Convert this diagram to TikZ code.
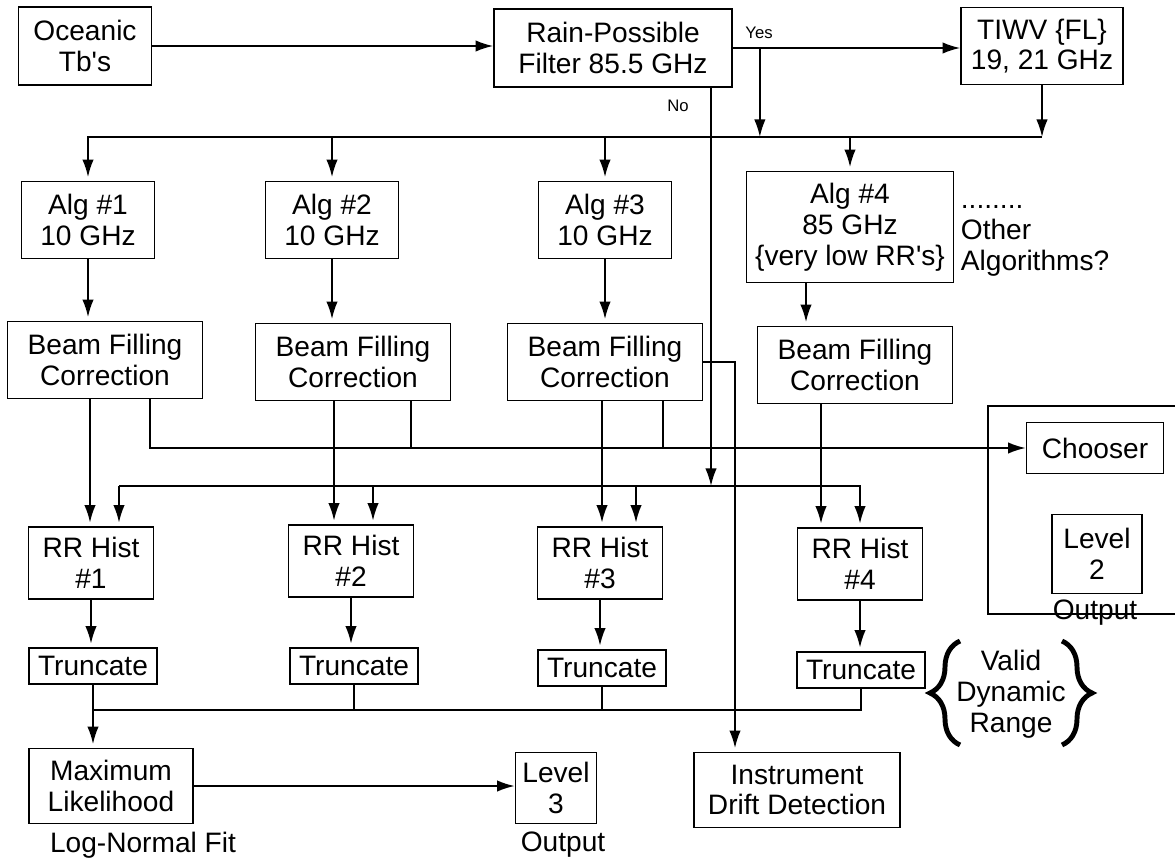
\documentclass[tikz,border=0pt]{standalone}
\usepackage{fontspec}
\setmainfont{Liberation Sans}
\usetikzlibrary{arrows.meta, calc, decorations.pathreplacing}

\begin{document}
\begin{tikzpicture}[
    x=0.02cm, y=-0.02cm, line width=1pt,
    % Define styles for the nodes
    box_node/.style={rectangle, draw=black, line width=1pt, inner sep=0pt, align=center, font=\fontsize{16}{17.5}\selectfont},
    top_node/.style={box_node, minimum height=1.56cm},
    alg_node/.style={box_node, minimum width=2.66cm, minimum height=1.54cm},
    beam_node/.style={box_node, minimum width=3.9cm, minimum height=1.54cm},
    hist_node/.style={box_node, minimum width=2.5cm, minimum height=1.44cm},
    trunc_node/.style={box_node, minimum width=2.56cm, minimum height=0.72cm},
    text_node/.style={align=center, inner sep=0pt, font=\fontsize{16}{17.5}\selectfont},
    small_node/.style={inner sep=0pt, font=\fontsize{9.5}{11}\selectfont},
    % Styles for arrows
    arrow/.style={-{Latex[length=10pt, width=6.5pt]}},
    bracket/.style={decorate, decoration={brace, amplitude=0.6cm}, line width=2.8pt}
]
    \useasboundingbox (0,0) rectangle (1175,861);

    % =========================================================================
    % INPUT & RAIN FILTER
    % =========================================================================
    \node (ocean) [top_node, minimum width=2.66cm] at (85,46) {Oceanic\\Tb\textquotesingle s};
    \node (rain) [top_node, minimum width=4.76cm] at (613,48) {Rain-Possible\\Filter 85.5 GHz};
    \node (tiwv) [top_node, minimum width=3.24cm, minimum height=1.54cm] at (1042,46) {TIWV \{FL\}\\19, 21 GHz};

    \draw [arrow] (ocean.east) -- (ocean.east -| rain.west);
    \draw [arrow] (rain.east) -- (rain.east -| tiwv.west);
    \node (yes) [small_node] at (759,33) {Yes};
    \node (no) [small_node] at (678,106) {No};

    % distribution bus to the algorithms
    \coordinate (bus) at (0,137);
    \coordinate (yesx) at ($(rain.east)+(27,0)$);
    \coordinate (nox) at ($(rain.south)+(98,0)$);
    \draw [arrow] (yesx) -- (yesx |- bus);
    \draw [arrow] (tiwv.south) -- (tiwv.south |- bus);

    % =========================================================================
    % ALGORITHMS
    % =========================================================================
    \node (alg1) [alg_node] at (88,220) {Alg \#1\\10 GHz};
    \node (alg2) [alg_node] at (332,220) {Alg \#2\\10 GHz};
    \node (alg3) [alg_node] at (605,220) {Alg \#3\\10 GHz};
    \node (alg4) [box_node, minimum width=4.14cm, minimum height=2.22cm] at (850,227) {Alg \#4\\85 GHz\\\{very low RR\textquotesingle s\}};
    \node (other) [text_node, align=left, anchor=west] at (960,241) {........\\Other\\Algorithms?};

    \draw [arrow, shorten >=2pt] (tiwv.south |- bus) -| (alg1.north);
    \draw [arrow, shorten >=2pt] (alg2.north |- bus) -- (alg2.north);
    \draw [arrow, shorten >=2pt] (alg3.north |- bus) -- (alg3.north);
    \draw [arrow, shorten >=2pt] (alg4.north |- bus) -- (alg4.north);

    % =========================================================================
    % BEAM FILLING CORRECTION
    % =========================================================================
    \node (beam1) [beam_node] at (105,360) {Beam Filling\\Correction};
    \node (beam2) [beam_node] at (353,362) {Beam Filling\\Correction};
    \node (beam3) [beam_node] at (605,362) {Beam Filling\\Correction};
    \node (beam4) [beam_node] at (855,365) {Beam Filling\\Correction};

    \coordinate (a4out) at ($(alg4.south)+(-44,0)$);
    \draw [arrow, shorten >=2pt] (alg1.south) -- (alg1.south |- beam1.north);
    \draw [arrow, shorten >=2pt] (alg2.south) -- (alg2.south |- beam2.north);
    \draw [arrow, shorten >=2pt] (alg3.south) -- (alg3.south |- beam3.north);
    \draw [arrow, shorten >=2pt] (a4out) -- (a4out |- beam4.north);

    % Chooser with its Level 2 output
    \node (chooser) [box_node, minimum width=2.74cm, minimum height=1.02cm] at (1095,448) {Chooser};
    \node (lev2) [box_node, minimum width=1.8cm, minimum height=1.58cm] at (1097,554) {Level\\2};
    \node (out2) [text_node] at (1095,613) {Output};
    \draw (1175,406) -| (988,614) -- (1175,614);

    \coordinate (b1c) at ($(beam1.south)+(45,0)$);
    \coordinate (b2c) at ($(beam2.south)+(58,0)$);
    \coordinate (b3c) at ($(beam3.south)+(58,0)$);
    \draw [arrow] (b1c) |- (chooser.west);
    \draw (b2c) -- (b2c |- chooser.west);
    \draw (b3c) -- (b3c |- chooser.west);

    % =========================================================================
    % RR HISTOGRAMS
    % =========================================================================
    \node (rr1) [hist_node] at (91,563) {RR Hist\\\#1};
    \node (rr2) [hist_node] at (351,561) {RR Hist\\\#2};
    \node (rr3) [hist_node] at (600,563) {RR Hist\\\#3};
    \node (rr4) [hist_node] at (860,564) {RR Hist\\\#4};

    \coordinate (b1d) at ($(beam1.south)+(-15,0)$);
    \coordinate (b2d) at ($(beam2.south)+(-19,0)$);
    \coordinate (b3d) at ($(beam3.south)+(-3,0)$);
    \coordinate (b4d) at ($(beam4.south)+(-34,0)$);
    \draw [arrow, shorten >=2pt] (b1d) -- (b1d |- rr1.north);
    \draw [arrow, shorten >=2pt] (b2d) -- (b2d |- rr2.north);
    \draw [arrow, shorten >=2pt] (b3d) -- (b3d |- rr3.north);
    \draw [arrow, shorten >=2pt] (b4d) -- (b4d |- rr4.north);

    % "No" bus to the histograms
    \coordinate (rrbus) at (0,486);
    \coordinate (r1b) at ($(rr1.north)+(28,0)$);
    \coordinate (r2b) at ($(rr2.north)+(22,0)$);
    \coordinate (r3b) at ($(rr3.north)+(36,0)$);
    \draw [arrow] (nox) -- (nox |- rrbus);
    \draw [arrow, shorten >=2pt] (r1b |- rrbus) -| (rr4.north);
    \draw [arrow, shorten >=2pt] (r1b |- rrbus) -- (r1b);
    \draw [arrow, shorten >=2pt] (r2b |- rrbus) -- (r2b);
    \draw [arrow, shorten >=2pt] (r3b |- rrbus) -- (r3b);

    % =========================================================================
    % TRUNCATION & OUTPUTS
    % =========================================================================
    \node (tr1) [trunc_node] at (93,666) {Truncate};
    \node (tr2) [trunc_node] at (354,666) {Truncate};
    \node (tr3) [trunc_node] at (602,668) {Truncate};
    \node (tr4) [trunc_node] at (861,670) {Truncate};

    \draw [arrow, shorten >=2pt] (rr1.south) -- (rr1.south |- tr1.north);
    \draw [arrow, shorten >=2pt] (rr2.south) -- (rr2.south |- tr2.north);
    \draw [arrow, shorten >=2pt] (rr3.south) -- (rr3.south |- tr3.north);
    \draw [arrow, shorten >=2pt] (rr4.south) -- (rr4.south |- tr4.north);

    \node (vdr) [text_node] at (1011,694) {Valid\\Dynamic\\Range};
    \draw [bracket] (960,745) -- (960,641);
    \draw [bracket] (1062,641) -- (1062,745);

    \node (maxl) [box_node, minimum width=3.28cm, minimum height=1.5cm] at (111,786) {Maximum\\Likelihood};
    \node (logn) [text_node] at (143,845) {Log-Normal Fit};
    \node (lev3) [box_node, minimum width=1.62cm, minimum height=1.42cm] at (556,788) {Level\\3};
    \node (out3) [text_node] at (563,845) {Output};
    \node (drift) [box_node, minimum width=4.12cm, minimum height=1.5cm] at (797,790) {Instrument\\Drift Detection};

    \coordinate (tbus) at (0,710);
    \draw (tr4.south) -- (tr4.south |- tbus) -- (tr1.south |- tbus);
    \draw (tr2.south) -- (tr2.south |- tbus);
    \draw (tr3.south) -- (tr3.south |- tbus);
    \draw [arrow, shorten >=2pt] (tr1.south) -- (tr1.south |- maxl.north);
    \draw [arrow] (maxl.east) -- (maxl.east -| lev3.west);

    % Beam filling #3 feeds the drift detection
    \coordinate (dx) at ($(drift.north)+(-62,0)$);
    \draw [arrow, shorten >=2pt] (beam3.east) -| (dx);

\end{tikzpicture}
\end{document}
